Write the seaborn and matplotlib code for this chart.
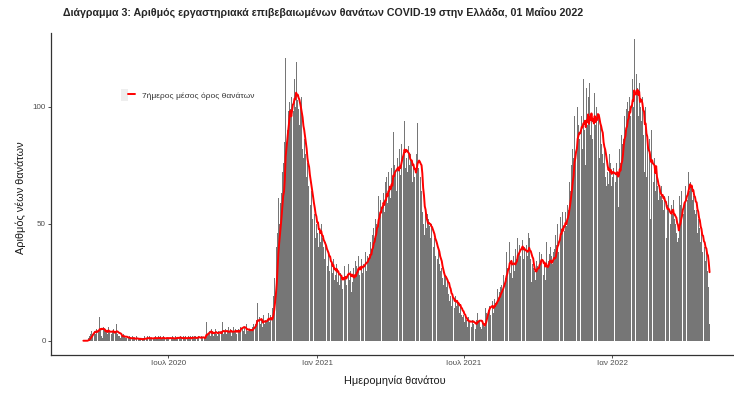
import matplotlib
matplotlib.use("Agg")
import matplotlib.pyplot as plt
import matplotlib.dates as mdates
from matplotlib.lines import Line2D
from matplotlib.patches import Patch
from matplotlib.legend_handler import HandlerTuple
import pandas as pd
import seaborn as sns

# --- data: daily deaths, one list per month ---
start_date = "2020-03-18"
d_2020_03 = [0, 0, 0, 0, 0, 0, 1, 1, 2, 3, 4, 3, 4, 5]
d_2020_04 = [4, 3, 5, 2, 6, 4, 10, 5, 2, 7, 1, 6, 4, 5, 3, 4, 3, 6, 4, 2, 5, 3, 4, 5, 3, 2, 4, 7, 3, 2]
d_2020_05 = [3, 2, 1, 2, 2, 1, 3, 2, 1, 1, 2, 0, 1, 2, 1, 1, 0, 2, 1, 1, 0, 1, 2, 0, 1, 1, 0, 1, 0, 1, 1]
d_2020_06 = [1, 2, 0, 1, 2, 1, 0, 2, 1, 1, 0, 2, 1, 1, 2, 1, 0, 1, 2, 1, 2, 0, 1, 1, 2, 1, 0, 2, 1, 1]
d_2020_07 = [1, 1, 2, 0, 1, 2, 1, 0, 1, 2, 1, 1, 3, 0, 1, 2, 1, 0, 1, 2, 1, 2, 1, 0, 1, 2, 1, 2, 1, 0, 2]
d_2020_08 = [1, 2, 1, 2, 0, 1, 2, 3, 1, 0, 2, 1, 1, 2, 1, 2, 8, 2, 4, 3, 4, 2, 5, 3, 4, 2, 3, 5, 4, 3, 2]
d_2020_09 = [4, 3, 5, 2, 4, 8, 3, 4, 2, 5, 3, 4, 6, 3, 4, 5, 2, 4, 3, 6, 4, 5, 3, 4, 2, 5, 4, 6, 12, 4]
d_2020_10 = [5, 4, 6, 3, 5, 7, 4, 4, 5, 3, 4, 5, 6, 7, 8, 6, 7, 9, 16, 8, 6, 10, 7, 9, 6, 8, 11, 7, 9, 8, 10]
d_2020_11 = [9, 12, 8, 11, 10, 3, 14, 19, 27, 31, 36, 40, 46, 61, 50, 52, 59, 63, 72, 76, 74, 85, 121, 84,
             90, 94, 98, 102, 99, 104]
d_2020_12 = [101, 108, 98, 112, 100, 119, 96, 103, 99, 92, 100, 88, 104, 82, 78, 86, 74, 80, 70, 76, 66, 68,
             62, 58, 64, 52, 60, 48, 54, 44, 50]
d_2021_01 = [46, 52, 40, 48, 42, 50, 38, 44, 40, 35, 42, 36, 40, 32, 38, 30, 34, 28, 33, 29, 35, 26, 31, 28,
             33, 25, 30, 27, 24, 29, 26]
d_2021_02 = [22, 30, 25, 32, 27, 24, 31, 28, 33, 26, 30, 21, 29, 25, 31, 27, 34, 26, 32, 30, 36, 28, 34, 27,
             35, 29, 33, 36]
d_2021_03 = [32, 38, 30, 36, 34, 40, 37, 42, 39, 45, 41, 48, 44, 52, 50, 58, 48, 62, 54, 60, 51, 66, 57, 63,
             55, 68, 60, 70, 59, 72, 64]
d_2021_04 = [68, 61, 74, 66, 89, 70, 75, 72, 64, 78, 70, 80, 82, 71, 84, 76, 86, 79, 94, 74, 78, 82, 72, 83,
             75, 80, 70, 77, 68, 74]
d_2021_05 = [70, 76, 68, 80, 93, 74, 78, 66, 70, 64, 55, 50, 52, 45, 56, 48, 54, 46, 52, 49, 44, 50, 45, 47,
             40, 44, 36, 38, 42, 35, 39]
d_2021_06 = [33, 30, 28, 31, 27, 24, 29, 25, 28, 23, 26, 20, 22, 17, 19, 15, 20, 16, 18, 14, 19, 15, 17, 13,
             16, 12, 15, 11, 13, 10]
d_2021_07 = [11, 8, 10, 7, 9, 6, 10, 8, 7, 11, 6, 9, 7, 8, 6, 5, 9, 12, 8, 11, 9, 6, 5, 8, 4, 7, 6, 14, 12, 16, 18]
d_2021_08 = [13, 15, 11, 16, 14, 17, 12, 18, 15, 19, 16, 22, 18, 21, 20, 23, 24, 22, 28, 25, 29, 27, 38, 31,
             35, 30, 42, 29, 34, 27, 33]
d_2021_09 = [36, 30, 39, 35, 38, 44, 37, 41, 36, 42, 39, 43, 35, 40, 37, 34, 41, 36, 46, 44, 32, 35, 25, 33,
             31, 28, 30, 26, 34, 32]
d_2021_10 = [36, 31, 38, 33, 37, 35, 30, 28, 33, 26, 42, 29, 32, 34, 37, 40, 25, 36, 33, 38, 39, 35, 45, 41,
             50, 38, 48, 44, 53, 46, 55]
d_2021_11 = [45, 52, 47, 55, 49, 58, 62, 56, 68, 64, 75, 70, 82, 78, 96, 80, 84, 84, 100, 92, 86, 94, 88, 96,
             82, 112, 90, 96, 75, 108]
d_2021_12 = [92, 104, 84, 110, 88, 94, 86, 98, 90, 106, 92, 100, 88, 104, 96, 78, 92, 84, 88, 80, 76, 82, 70,
             78, 66, 72, 67, 80, 72, 76, 66]
d_2022_01 = [70, 74, 64, 80, 68, 76, 72, 57, 78, 82, 76, 88, 84, 92, 86, 96, 90, 99, 94, 102, 98, 104, 96, 108,
             100, 112, 100, 129, 92, 96, 114]
d_2022_02 = [108, 96, 110, 98, 100, 94, 104, 88, 92, 72, 100, 70, 84, 70, 82, 86, 52, 90, 76, 74, 68, 78, 64,
             72, 58, 66, 60, 64]
d_2022_03 = [62, 58, 66, 60, 56, 62, 54, 60, 44, 58, 62, 52, 56, 50, 58, 54, 60, 48, 52, 50, 46, 42, 48, 44,
             62, 58, 64, 56, 60, 54, 58]
d_2022_04 = [66, 62, 76, 60, 72, 64, 68, 58, 66, 60, 62, 56, 60, 54, 56, 46, 52, 44, 48, 42, 46, 38, 44, 36,
             40, 34, 38, 30, 33, 23]
d_2022_05 = [7]

tick_dates = ["2020-07-01", "2021-01-01", "2021-07-01", "2022-01-01"]
tick_labels = ["Ιουλ 2020", "Ιαν 2021", "Ιουλ 2021", "Ιαν 2022"]
y_ticks = [0, 50, 100]

title = "Διάγραμμα 3: Αριθμός εργαστηριακά επιβεβαιωμένων θανάτων COVID-19 στην Ελλάδα, 01 Μαΐου 2022"
legend_label = "7ήμερος μέσος όρος θανάτων"

months = [d_2020_03, d_2020_04, d_2020_05, d_2020_06, d_2020_07, d_2020_08, d_2020_09, d_2020_10,
          d_2020_11, d_2020_12, d_2021_01, d_2021_02, d_2021_03, d_2021_04, d_2021_05, d_2021_06,
          d_2021_07, d_2021_08, d_2021_09, d_2021_10, d_2021_11, d_2021_12, d_2022_01, d_2022_02,
          d_2022_03, d_2022_04, d_2022_05]
deaths = [v for m in months for v in m]
dates = pd.date_range(start_date, periods=len(deaths), freq="D")
df = pd.DataFrame({"date": mdates.date2num(dates), "deaths": deaths})
df["avg7"] = df["deaths"].rolling(7, min_periods=1).mean()

# --- style ---
sns.set_style("ticks")
plt.rcParams["font.family"] = ["Liberation Sans", "DejaVu Sans"]

fig = plt.figure(figsize=(7.34, 3.95), dpi=100)
ax = fig.add_axes([51 / 734, 40 / 395, 683 / 734, 322 / 395])

sns.barplot(data=df, x="date", y="deaths", native_scale=True, orient="x", width=0.9,
            color="#767676", saturation=1, errorbar=None, linewidth=0, ax=ax)
sns.lineplot(data=df, x="date", y="avg7", color="#ff0000", linewidth=1.4, legend=False, ax=ax)

x0 = df["date"].iloc[0]
ax.set_xlim(x0 - 40, x0 + 804.2)
ax.set_ylim(-6.1, 131.5)

ax.set_xticks(mdates.date2num(pd.to_datetime(tick_dates)))
ax.set_xticklabels(tick_labels)
ax.set_yticks(y_ticks)
ax.tick_params(length=2.2, width=0.6, color="#333333", labelsize=5.8, labelcolor="#4d4d4d", pad=1.5)

for s in ["top", "right"]:
    ax.spines[s].set_visible(False)
for s in ["left", "bottom"]:
    ax.spines[s].set_color("#333333")
    ax.spines[s].set_linewidth(0.9)

ax.set_xlabel("Ημερομηνία θανάτου", fontsize=7.8, color="#1a1a1a")
ax.xaxis.set_label_coords(0.503, -0.081)
ax.xaxis.label.set_va("center")
ax.set_ylabel("Αριθμός νέων θανάτων", fontsize=7.8, color="#1a1a1a")
ax.yaxis.set_label_coords(-0.0445, 0.49)
ax.yaxis.label.set_va("center")

fig.text(63 / 734, 1 - 12 / 395, title, fontsize=7.7, fontweight="bold", ha="left", va="center")

handle = (Patch(facecolor="#eeeeee", edgecolor="none"), Line2D([], [], color="#ff0000", lw=1.4))
fig.legend([handle], [legend_label], handler_map={tuple: HandlerTuple(ndivide=None, pad=0)},
           loc="center left", bbox_to_anchor=(120.7 / 734, 1 - 95 / 395), frameon=False,
           fontsize=6, handlelength=1.7, handleheight=1.7, handletextpad=0.8,
           borderpad=0, borderaxespad=0, labelcolor="#333333")

fig.savefig("out.png", dpi=100)
